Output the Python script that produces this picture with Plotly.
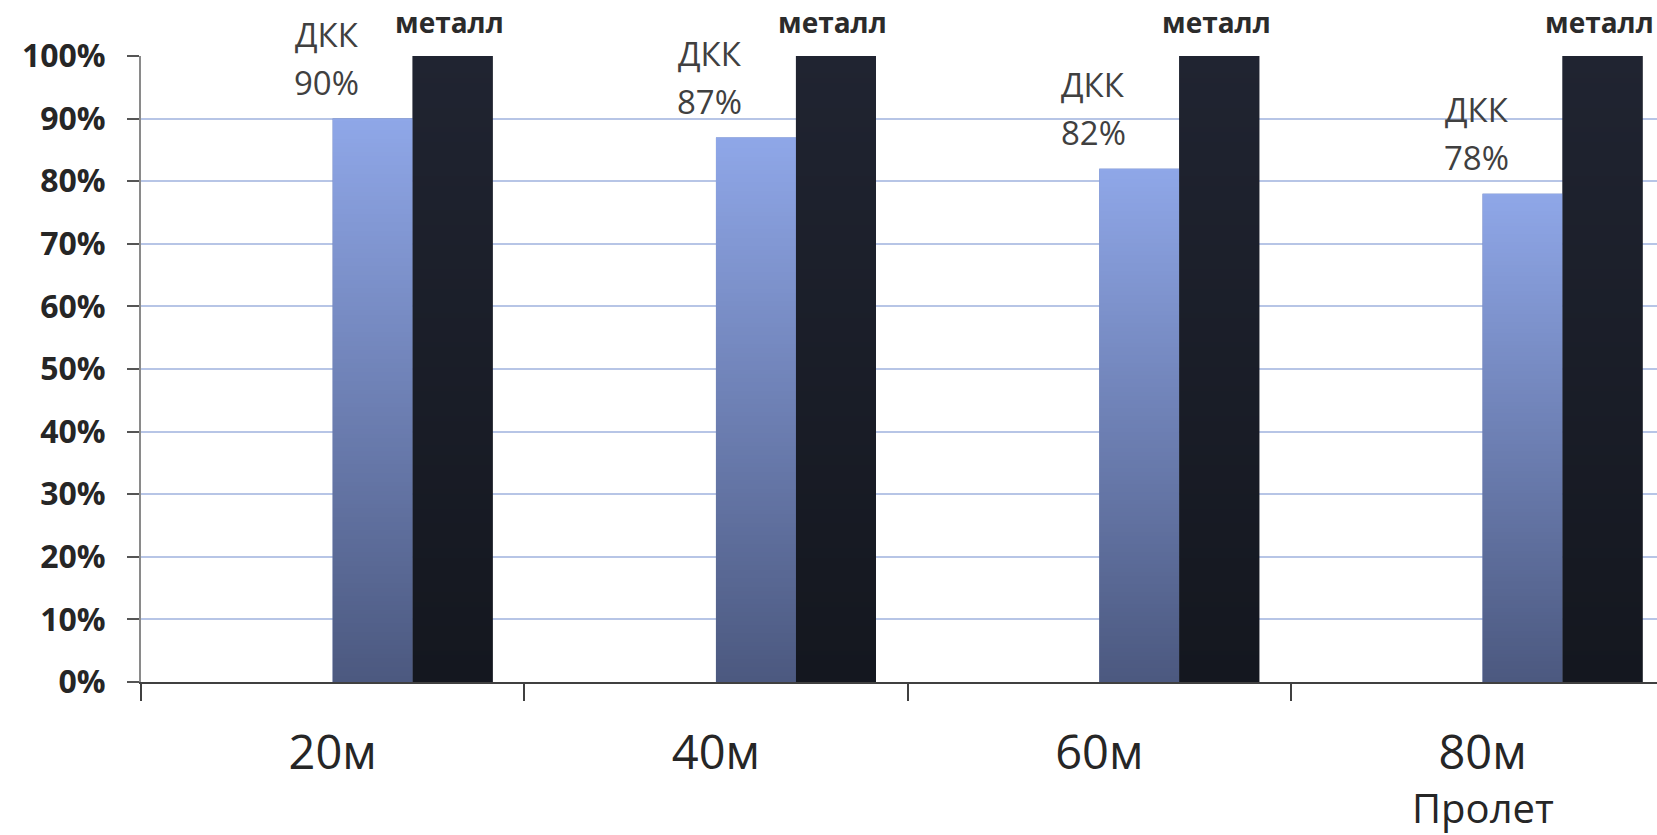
import base64
import struct
import zlib

import plotly.graph_objects as go

# ---------------- data ----------------
categories = ["20м", "40м", "60м", "80м"]
series_names = ["ДКК", "металл"]
dkk_values = [90, 87, 82, 78]
metal_values = [100, 100, 100, 100]
y_tick_values = [0, 10, 20, 30, 40, 50, 60, 70, 80, 90, 100]
x_axis_title = "Пролет"

# ---------------- styling ----------------
W, H = 1657, 835
M_L, M_R, M_T, M_B = 141, 0, 56, 153
CAT_PX = 383.3                      # pixel width of one category
BAR_W = 80 / CAT_PX                 # bar width in category units
X_MAX = -0.5 + (W - M_L - M_R) / CAT_PX

DKK_TOP, DKK_BOT = (143, 167, 232), (76, 89, 128)
MET_TOP, MET_BOT = (32, 36, 49), (20, 23, 31)
FONT = "Open Sans"


def rgb(c):
    return "rgb(%d,%d,%d)" % c


def mid(a, b):
    return tuple(round((x + y) / 2) for x, y in zip(a, b))


def gradient_png(top, bottom, n=128, w=4):
    raw = b""
    for k in range(n):
        t = k / (n - 1)
        px = bytes(round(top[j] + (bottom[j] - top[j]) * t) for j in range(3))
        raw += b"\x00" + px * w

    def chunk(tag, data):
        return (struct.pack(">I", len(data)) + tag + data
                + struct.pack(">I", zlib.crc32(tag + data) & 0xFFFFFFFF))

    png = (b"\x89PNG\r\n\x1a\n"
           + chunk(b"IHDR", struct.pack(">IIBBBBB", w, n, 8, 2, 0, 0, 0))
           + chunk(b"IDAT", zlib.compress(raw))
           + chunk(b"IEND", b""))
    return "data:image/png;base64," + base64.b64encode(png).decode()


fig = go.Figure()
fig.add_trace(go.Bar(
    x=categories, y=dkk_values, name=series_names[0],
    width=BAR_W, offset=0,
    marker=dict(color=rgb(mid(DKK_TOP, DKK_BOT)), line=dict(width=0)),
    hoverinfo="x+y",
))
fig.add_trace(go.Bar(
    x=categories, y=metal_values, name=series_names[1],
    width=BAR_W, offset=BAR_W,
    marker=dict(color=rgb(mid(MET_TOP, MET_BOT)), line=dict(width=0)),
    hoverinfo="x+y",
))

# gradient overlays on the bars (positioned from the data through the axes)
dkk_img = gradient_png(DKK_TOP, DKK_BOT)
met_img = gradient_png(MET_TOP, MET_BOT)
images = []
for i, v in enumerate(dkk_values):
    images.append(dict(source=dkk_img, xref="x", yref="y", x=i, y=v,
                       sizex=BAR_W, sizey=v, sizing="stretch",
                       xanchor="left", yanchor="top", layer="above"))
for i, v in enumerate(metal_values):
    images.append(dict(source=met_img, xref="x", yref="y", x=i + BAR_W, y=v,
                       sizex=BAR_W, sizey=v, sizing="stretch",
                       xanchor="left", yanchor="top", layer="above"))

annotations = []
for i, v in enumerate(dkk_values):
    annotations.append(dict(x=i, y=v, xref="x", yref="y", text=f"{v}%",
                            showarrow=False, xanchor="center", yanchor="middle",
                            xshift=-6, yshift=36,
                            font=dict(family=FONT, size=33, color="#404040")))
    annotations.append(dict(x=i, y=v, xref="x", yref="y", text=series_names[0],
                            showarrow=False, xanchor="center", yanchor="middle",
                            xshift=-6, yshift=84,
                            font=dict(family=FONT, size=33, color="#404040")))
for i, v in enumerate(metal_values):
    annotations.append(dict(x=i + 1.5 * BAR_W, y=v, xref="x", yref="y",
                            text=series_names[1], showarrow=False,
                            xanchor="center", yanchor="middle",
                            xshift=-3, yshift=34,
                            font=dict(family=FONT, size=28, color="#2b2b2b",
                                      weight="bold")))
annotations.append(dict(x=len(categories) - 1, y=0, xref="x", yref="paper",
                        text=x_axis_title, showarrow=False,
                        xanchor="center", yanchor="top", yshift=-96,
                        font=dict(family=FONT, size=40, color="#262626")))

fig.update_layout(
    width=W, height=H, autosize=False,
    margin=dict(l=M_L, r=M_R, t=M_T, b=M_B, pad=0),
    paper_bgcolor="white", plot_bgcolor="white",
    showlegend=False, barmode="overlay",
    images=images, annotations=annotations,
    xaxis=dict(
        type="category", range=[-0.5, X_MAX],
        tickson="boundaries", ticks="outside", ticklen=17, tickwidth=2,
        tickcolor="#404040",
        showline=True, linecolor="#404040", linewidth=2,
        showgrid=False, zeroline=False,
        tickfont=dict(family=FONT, size=47, color="#262626"),
        ticklabelstandoff=29,
    ),
    yaxis=dict(
        range=[0, 100], tickvals=y_tick_values,
        ticktext=[f"{t}%" for t in y_tick_values],
        ticks="outside", ticklen=12, tickwidth=2, tickcolor="#555555",
        showline=True, linecolor="#8a8a8a", linewidth=2,
        showgrid=True, gridcolor="#b7c5e6", gridwidth=1.5,
        zeroline=False,
        tickfont=dict(family=FONT, size=32, color="#262626", weight="bold"),
        ticklabelstandoff=15,
    ),
)

fig.write_html("out.html")
